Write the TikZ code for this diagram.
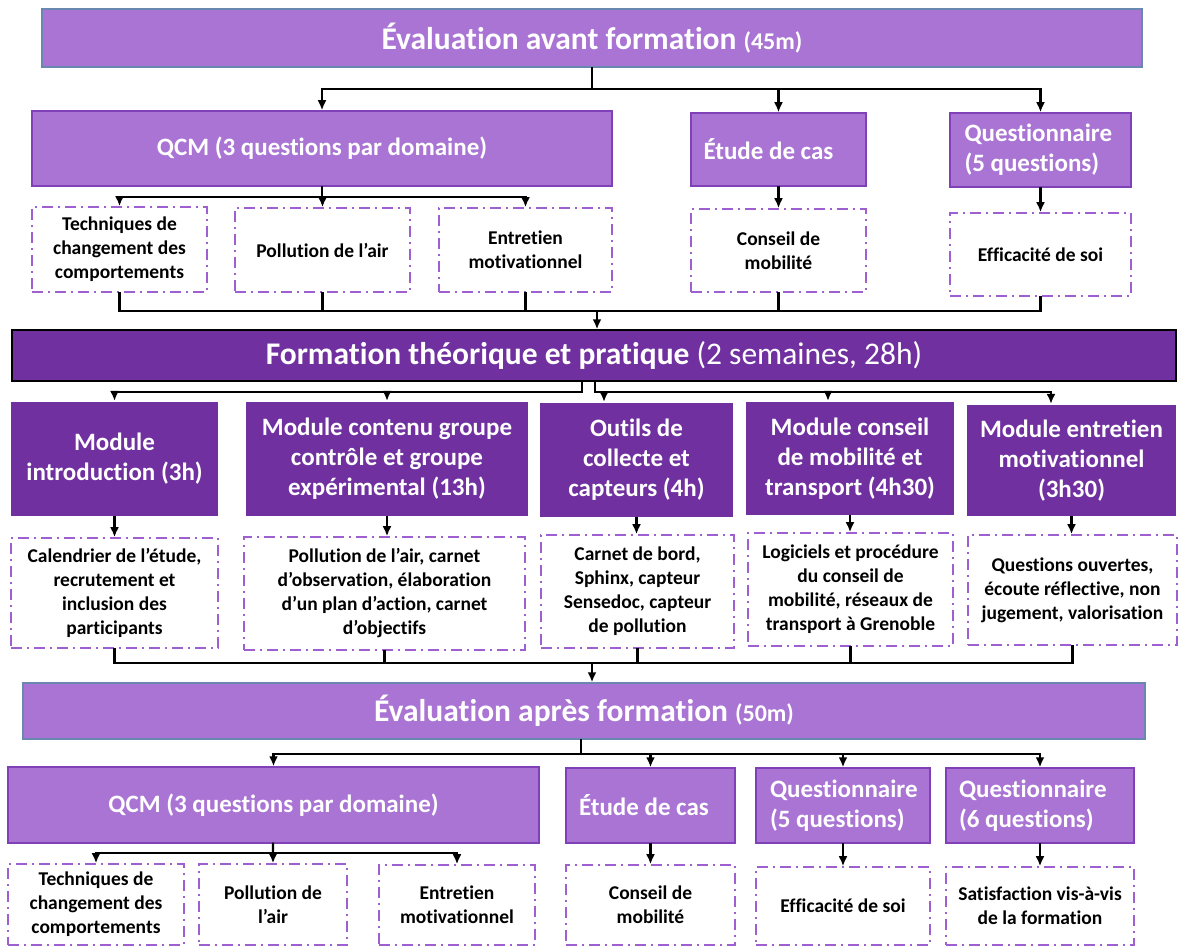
\documentclass[tikz,border=0pt]{standalone}
\usepackage{fontspec}
\setmainfont{Carlito}[Ligatures=NoCommon]
\usetikzlibrary{arrows.meta}
\definecolor{lilac}{RGB}{169,116,211}
\definecolor{lilacline}{RGB}{128,64,184}
\definecolor{plum}{RGB}{112,48,160}
\definecolor{steel}{RGB}{104,136,178}
\definecolor{dashpurple}{RGB}{158,96,208}
\begin{document}
\begin{tikzpicture}[x=1pt,y=-1pt,line width=2.2pt,line cap=rect,
      arr/.style={-{Latex[length=10pt,width=9pt]}},
      sz/.style 2 args={minimum width=#1pt,minimum height=#2pt},
      hbox/.style={draw=steel,fill=lilac,line width=1.5pt,text=white,inner sep=0pt,
        font=\fontsize{31.5}{36}\selectfont\bfseries},
      lbox/.style={draw=lilacline,fill=lilac,line width=1.5pt,text=white,inner sep=0pt,
        align=center,font=\fontsize{25}{30}\selectfont\bfseries},
      mbox/.style={fill=plum,text=white,inner sep=0pt,align=center,
        font=\fontsize{25}{30}\selectfont\bfseries},
      dbox/.style={draw=dashpurple,fill=white,line width=1.6pt,line cap=butt,
        dash pattern=on 11pt off 5pt on 2pt off 5pt,inner sep=0pt,align=center,
        font=\fontsize{19.5}{24}\selectfont\bfseries}]
    \useasboundingbox (0,0) rectangle (1178,947);

    \node[hbox,sz={1100}{58}](n0) at (592,38){Évaluation avant formation {\fontsize{24}{28}\selectfont (45m)}};
    \node[lbox,sz={580}{75}](n1) at (322,148.5){QCM (3 questions par domaine)};
    \node[lbox,sz={175}{73},text width=150pt,align=flush left](n2) at (778.5,149.5){Étude de cas};
    \node[lbox,sz={181}{74},text width=152pt,align=flush left](n3) at (1040.5,150){Questionnaire\\(5 questions)};
    \node[dbox,sz={175}{85}](n4) at (119.5,249.5){Techniques de\\changement des\\comportements};
    \node[dbox,sz={175}{84}](n5) at (322.5,250){Pollution de l’air};
    \node[dbox,sz={173}{84}](n6) at (525.5,250){Entretien\\motivationnel};
    \node[dbox,sz={175}{83}](n7) at (778.5,250.5){Conseil de\\mobilité};
    \node[dbox,sz={181}{83}](n8) at (1040.5,254.5){Efficacité de soi};
    \coordinate (c0) at (592,89);
    \coordinate (c1) at (322,197);
    \coordinate (c2) at (597,311);
    \draw (n0) -- (c0);
    \draw[arr] (c0) -| (n1);
    \draw[arr] (c0) -| (n2);
    \draw[arr] (c0) -| (n3);
    \draw (n1) -- (c1);
    \draw[arr] (c1) -| (n4);
    \draw[arr] (c1) -| (n5);
    \draw[arr] (c1) -| (n6);
    \draw[arr] (n2) -- (n7);
    \draw[arr] (n3) -- (n8);
    \draw (n4) |- (c2);
    \draw (n5) |- (c2);
    \draw (n6) |- (c2);
    \draw (n7) |- (c2);
    \draw (n8) |- (c2);

    \node[mbox,draw=black,line width=1.5pt,sz={1164}{51},font=\fontsize{31.5}{36}\selectfont\bfseries](n9) at (594,355.5){Formation théorique et pratique {\mdseries (2 semaines, 28h)}};
    \draw[arr] (c2) -- (c2 |- n9.north);
    \node[mbox,sz={207}{114}](n10) at (114.5,459){Module\\introduction (3h)};
    \node[mbox,sz={282}{114}](n11) at (387,459){Module contenu groupe\\contrôle et groupe\\expérimental (13h)};
    \node[mbox,sz={193}{114}](n12) at (636.5,460){Outils de\\collecte et\\capteurs (4h)};
    \node[mbox,sz={208}{113}](n13) at (850,458.5){Module conseil\\de mobilité et\\transport (4h30)};
    \node[mbox,sz={209}{111}](n14) at (1071.5,460.5){Module entretien\\motivationnel\\(3h30)};
    \node[dbox,sz={207}{110}](n15) at (114.5,593){Calendrier de l’étude,\\recrutement et\\inclusion des\\participants};
    \node[dbox,sz={281}{113}](n16) at (384.5,593.5){Pollution de l’air, carnet\\d’observation, élaboration\\d’un plan d’action, carnet\\d’objectifs};
    \node[dbox,sz={193}{113}](n17) at (637.5,591.5){Carnet de bord,\\Sphinx, capteur\\Sensedoc, capteur\\de pollution};
    \node[dbox,sz={205}{113}](n18) at (850.5,589.5){Logiciels et procédure\\du conseil de\\mobilité, réseaux de\\transport à Grenoble};
    \node[dbox,sz={209}{110}](n19) at (1072.5,590){Questions ouvertes,\\écoute réflective, non\\jugement, valorisation};
    \coordinate (c3) at (582,392);
    \coordinate (c4) at (595,392);
    \coordinate (c5) at (592,663);
    \draw (c3 |- n9.south) -- (c3);
    \draw (c4 |- n9.south) -- (c4);
    \draw[arr] (c3) -| (n10);
    \draw[arr] (c3) -| (n11);
    \draw[arr] (c4) -| ([xshift=-32.5pt]n12.north);
    \draw[arr] (c4) -| ([xshift=-22pt]n13.north);
    \draw[arr] (c4) -| ([xshift=-20.5pt]n14.north);
    \draw[arr] (n10) -- (n15);
    \draw[arr] (n11) -- (n11 |- n16.north);
    \draw[arr] (n12) -- (n12 |- n17.north);
    \draw[arr] (n13) -- (n13 |- n18.north);
    \draw[arr] (n14) -- (n14 |- n19.north);
    \draw (n15) |- (c5);
    \draw (n16) |- (c5);
    \draw (n17) |- (c5);
    \draw (n18) |- (c5);
    \draw (n19) |- (c5);

    \node[hbox,sz={1122}{56}](n20) at (584,711){Évaluation après formation {\fontsize{24}{28}\selectfont (50m)}};
    \draw[arr] (c5) -- (c5 |- n20.north);
    \node[lbox,sz={531}{76}](n21) at (273.5,805){QCM (3 questions par domaine)};
    \node[lbox,sz={169}{75},text width=143pt,align=flush left](n22) at (650.5,805.5){Étude de cas};
    \node[lbox,sz={174}{75},text width=146pt,align=flush left](n23) at (843,805.5){Questionnaire\\(5 questions)};
    \node[lbox,sz={188}{75},text width=162pt,align=flush left](n24) at (1040,805.5){Questionnaire\\(6 questions)};
    \node[dbox,sz={176}{81}](n25) at (96,904.5){Techniques de\\changement des\\comportements};
    \node[dbox,sz={148}{81}](n26) at (273,904.5){Pollution de\\l’air};
    \node[dbox,sz={156}{80}](n27) at (457,905){Entretien\\motivationnel};
    \node[dbox,sz={169}{80}](n28) at (650.5,905){Conseil de\\mobilité};
    \node[dbox,sz={174}{78}](n29) at (843,906){Efficacité de soi};
    \node[dbox,sz={188}{78}](n30) at (1040,906){Satisfaction vis-à-vis\\de la formation};
    \coordinate (c6) at (581,754);
    \coordinate (c7) at (273,853);
    \draw (c6 |- n20.south) -- (c6);
    \draw[arr] (c6) -| (n21);
    \draw[arr] (c6) -| (n22);
    \draw[arr] (c6) -| (n23);
    \draw[arr] (c6) -| (n24);
    \draw (n21) -- (c7);
    \draw[arr] (c7) -| (n25);
    \draw[arr] (c7) -| (n26);
    \draw[arr] (c7) -| (n27);
    \draw[arr] (n22) -- (n28);
    \draw[arr] (n23) -- (n29);
    \draw[arr] (n24) -- (n30);

\end{tikzpicture}
\end{document}
